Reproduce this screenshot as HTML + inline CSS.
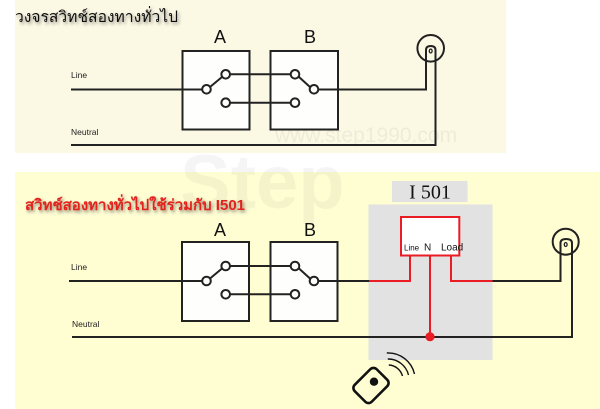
<!DOCTYPE html>
<html><head><meta charset="utf-8"><style>
html,body{margin:0;padding:0;background:#fff;}
svg{display:block;}
.t{font-family:"Liberation Sans","DejaVu Sans",sans-serif;}
</style></head><body>
<svg width="600" height="409" viewBox="0 0 600 409" xmlns="http://www.w3.org/2000/svg">
<defs>
<filter id="sh" x="-10%" y="-50%" width="120%" height="200%">
<feGaussianBlur in="SourceAlpha" stdDeviation="1.6"/>
<feOffset dx="1.5" dy="2" result="b"/>
<feFlood flood-color="#000" flood-opacity="0.45"/>
<feComposite in2="b" operator="in"/>
<feMerge><feMergeNode/><feMergeNode in="SourceGraphic"/></feMerge>
</filter>
</defs>
<rect width="600" height="409" fill="#fff"/>
<rect x="15" y="0" width="491" height="153" fill="#fbf8e4"/>
<rect x="15" y="172" width="585" height="237" fill="#fffdd2"/>

<!-- watermark -->
<text x="180" y="208" class="t" font-size="76" font-weight="bold" fill="#000" fill-opacity="0.04">Step</text>
<text x="275" y="142" class="t" font-size="21" fill="#000" fill-opacity="0.05">www.step1990.com</text>

<!-- TOP PANEL -->
<text x="15" y="22" class="t" font-size="15.5" fill="#111" filter="url(#sh)" textLength="163" lengthAdjust="spacingAndGlyphs">วงจรสวิทช์สองทางทั่วไป</text>
<text x="220" y="43" class="t" font-size="18" text-anchor="middle" fill="#111">A</text>
<text x="310" y="43" class="t" font-size="18" text-anchor="middle" fill="#111">B</text>
<text x="71" y="78" class="t" font-size="8.5" fill="#222">Line</text>
<text x="71" y="135" class="t" font-size="8.5" fill="#222">Neutral</text>

<g stroke="#222" stroke-width="2" fill="none">
<rect x="182.5" y="51" width="67" height="78.5" fill="#fefefc"/>
<rect x="270.5" y="51" width="67.5" height="78.5" fill="#fefefc"/>
<line x1="71" y1="89.5" x2="202" y2="89.5"/>
<line x1="230" y1="74.3" x2="291" y2="74.3"/>
<line x1="230" y1="102.7" x2="291" y2="102.7"/>
<line x1="210" y1="87" x2="222" y2="77"/>
<line x1="299" y1="77" x2="310" y2="87"/>
<path d="M318.5 89.5 H426 V50"/>
<path d="M71 145 H435.5 V50"/>
<path d="M426 50 Q426 46 430.7 46 Q435.5 46 435.5 50"/>
<circle cx="430.7" cy="48.3" r="13.3"/>
<circle cx="206.5" cy="89.3" r="4.3" fill="#fefefc"/>
<circle cx="225.7" cy="74.3" r="4.3" fill="#fefefc"/>
<circle cx="225.7" cy="102.7" r="4.3" fill="#fefefc"/>
<circle cx="295" cy="74.3" r="4.3" fill="#fefefc"/>
<circle cx="295" cy="102.7" r="4.3" fill="#fefefc"/>
<circle cx="314" cy="89.3" r="4.3" fill="#fefefc"/>
<ellipse cx="430.7" cy="51" rx="1.4" ry="2" stroke-width="1.3"/>
</g>

<!-- BOTTOM PANEL -->
<text x="25" y="210" class="t" font-size="15" font-weight="bold" fill="#e3221c" filter="url(#sh)" textLength="220" lengthAdjust="spacingAndGlyphs">สวิทช์สองทางทั่วไปใช้ร่วมกับ I501</text>
<text x="220" y="236" class="t" font-size="18" text-anchor="middle" fill="#111">A</text>
<text x="310" y="236" class="t" font-size="18" text-anchor="middle" fill="#111">B</text>
<text x="71" y="270" class="t" font-size="8.5" fill="#222">Line</text>
<text x="72" y="327" class="t" font-size="8.5" fill="#222">Neutral</text>

<!-- I501 -->
<rect x="392" y="181" width="75.5" height="21" fill="#e2e2e2"/>
<text x="430" y="198.5" font-family="'Liberation Serif',serif" font-size="20" text-anchor="middle" fill="#111">I 501</text>
<rect x="368.5" y="204.5" width="124" height="155.5" fill="#e2e2e2"/>

<g stroke="#222" stroke-width="2" fill="none">
<rect x="182" y="242" width="67" height="79" fill="#fefefc"/>
<rect x="270.5" y="242" width="67" height="79" fill="#fefefc"/>
<line x1="69" y1="281" x2="202" y2="281"/>
<line x1="230" y1="266" x2="291" y2="266"/>
<line x1="230" y1="294.3" x2="291" y2="294.3"/>
<line x1="210" y1="278.5" x2="222" y2="268.5"/>
<line x1="299" y1="268.5" x2="310" y2="278.5"/>
<line x1="318.5" y1="281" x2="369" y2="281"/>
<path d="M492.5 281 H560.5 V243"/>
<path d="M72 337 H572 V243"/>
<path d="M560.5 243 Q560.5 239 566 239 Q572 239 572 243"/>
<circle cx="565.7" cy="241.7" r="13"/>
<circle cx="206.5" cy="281" r="4.3" fill="#fefefc"/>
<circle cx="225.7" cy="266" r="4.3" fill="#fefefc"/>
<circle cx="225.7" cy="294.3" r="4.3" fill="#fefefc"/>
<circle cx="295" cy="266" r="4.3" fill="#fefefc"/>
<circle cx="295" cy="294.3" r="4.3" fill="#fefefc"/>
<circle cx="314" cy="281" r="4.3" fill="#fefefc"/>
<ellipse cx="565.7" cy="244.5" rx="1.4" ry="2" stroke-width="1.3"/>
</g>

<!-- red wiring -->
<g stroke="#ea1c24" stroke-width="2" fill="none">
<rect x="401" y="217" width="58.3" height="38.5" fill="#fff"/>
<path d="M369 281 H410 V255.5"/>
<path d="M492.5 281 H451 V255.5"/>
<line x1="430" y1="255.5" x2="430" y2="337"/>
</g>
<circle cx="430" cy="336.7" r="4.6" fill="#ea1c24"/>
<text x="404" y="250.5" class="t" font-size="8" fill="#111">Line</text>
<text x="424" y="250.5" class="t" font-size="10" fill="#111">N</text>
<text x="441" y="250.5" class="t" font-size="10" fill="#111">Load</text>

<!-- remote -->
<g fill="none" stroke="#111">
<rect x="-12" y="-15.5" width="24" height="31" rx="4.5" transform="translate(371 385.5) rotate(45)" stroke-width="2.6"/>
<path d="M388.8 365 A15 15 0 0 1 402.5 376" stroke-width="1.4"/>
<path d="M387.8 359 A21 21 0 0 1 408.5 375" stroke-width="1.4"/>
<path d="M386.8 353 A27 27 0 0 1 414.5 374" stroke-width="1.4"/>
</g>
<circle cx="374" cy="381.7" r="4.2" fill="#111"/>
</svg>
</body></html>
